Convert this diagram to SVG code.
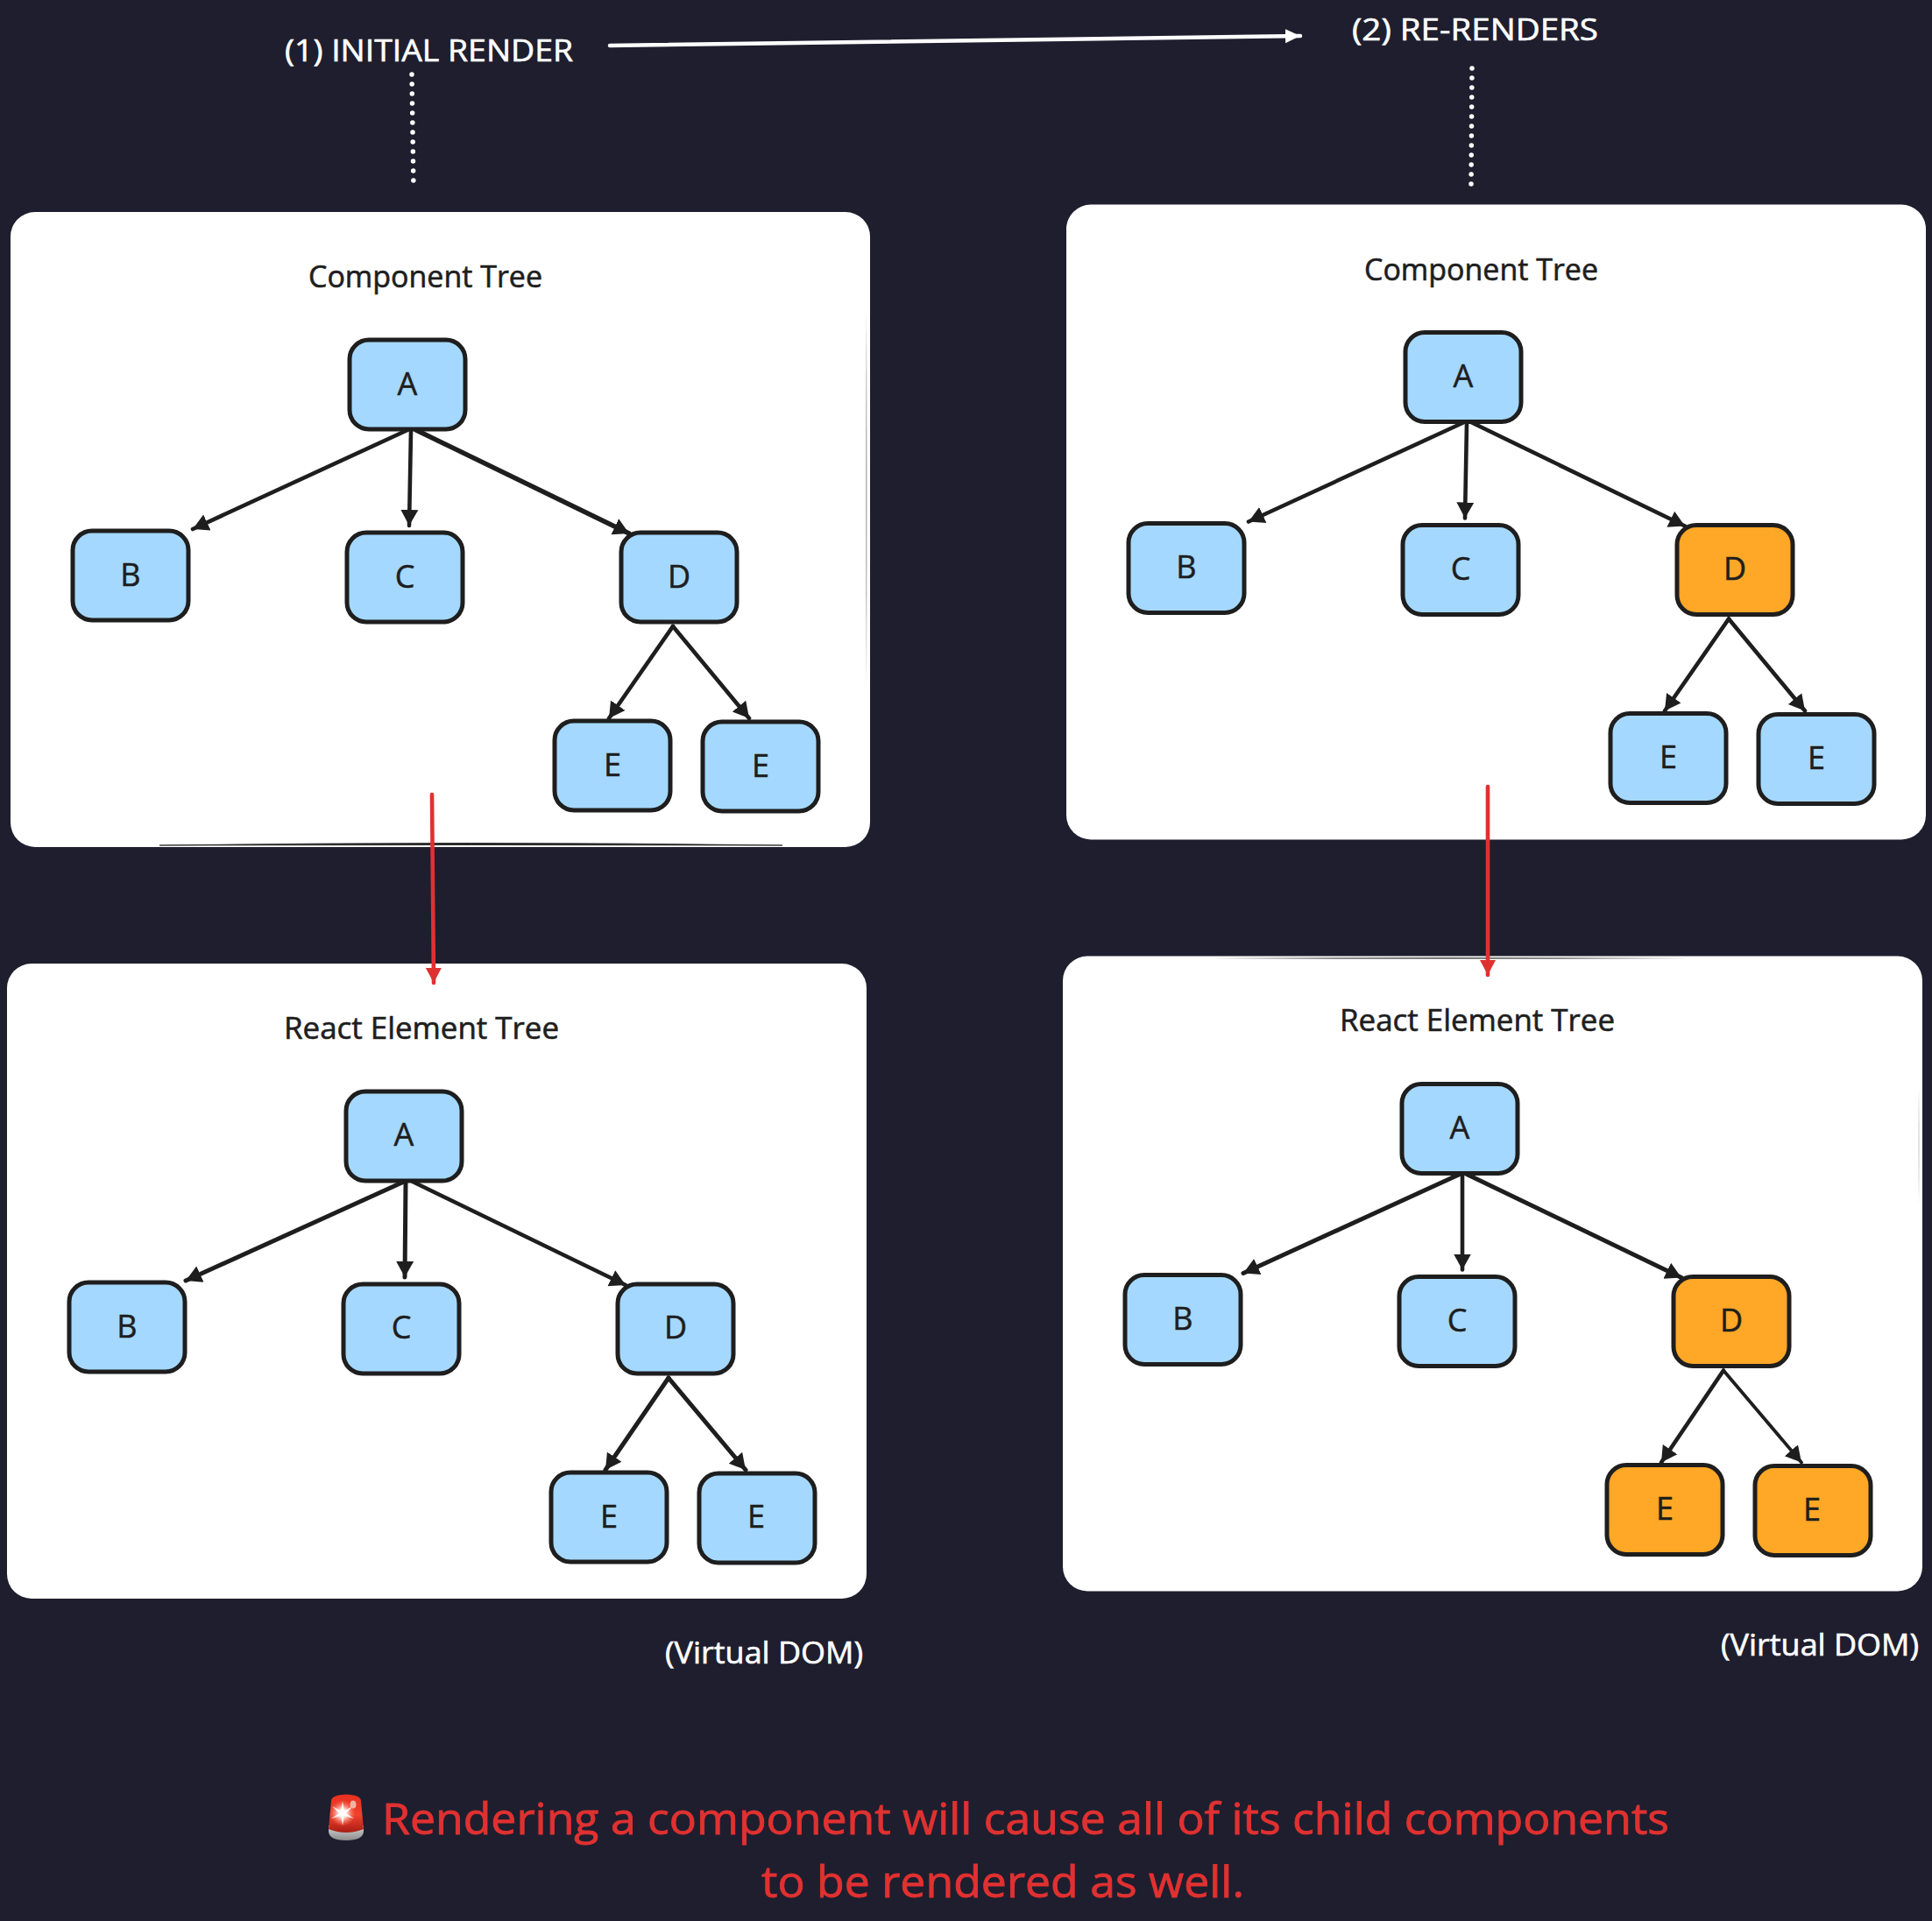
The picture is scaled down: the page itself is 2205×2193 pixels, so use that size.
<svg xmlns="http://www.w3.org/2000/svg" width="2205" height="2193" viewBox="0 0 2205 2193">
<style>
text{font-family:"Open Sans","Noto Sans","Liberation Sans",sans-serif}
.panel{fill:#fff}
.sk{fill:#1e1e1e}
.n{stroke:#1e1e1e;stroke-width:5}
.blue{fill:#a5d8ff}
.orange{fill:#ffa726}
.lbl{font-size:36px;fill:#1e1e1e;stroke:#1e1e1e;stroke-width:.5;text-anchor:middle}
.ttl{font-size:34px;fill:#1e1e1e;stroke:#1e1e1e;stroke-width:.6}
.wt{font-size:34px;fill:#fff;stroke:#fff;stroke-width:.6}
.red{font-size:50px;fill:#e03131;stroke:#e03131;stroke-width:.9}
.c{fill:none;stroke:#1e1e1e;stroke-width:4.6;stroke-linecap:round;marker-end:url(#ah)}
.rc{fill:none;stroke:#e03131;stroke-width:4.6;stroke-linecap:round;marker-end:url(#ahr)}
.wc{fill:none;stroke:#fff;stroke-width:4.5;stroke-linecap:round;marker-end:url(#ahw)}
.dot{fill:none;stroke:#fff;stroke-width:5.5;stroke-linecap:round;stroke-dasharray:0 11}
</style>
<defs>
<marker id="ah" markerUnits="userSpaceOnUse" markerWidth="22" markerHeight="24" refX="18" refY="11" orient="auto"><path d="M0,1 L18,11 L0,21 Z" fill="#1e1e1e"/></marker>
<marker id="ahr" markerUnits="userSpaceOnUse" markerWidth="22" markerHeight="24" refX="17" refY="11" orient="auto"><path d="M0,2 L17,11 L0,20 Z" fill="#e03131"/></marker>
<marker id="ahw" markerUnits="userSpaceOnUse" markerWidth="22" markerHeight="24" refX="17" refY="11" orient="auto"><path d="M0,3 L17,11 L0,19 Z" fill="#fff"/></marker>
<linearGradient id="dome" x1="0" y1="0" x2="0" y2="1"><stop offset="0" stop-color="#e8301f"/><stop offset=".55" stop-color="#f0402c"/><stop offset="1" stop-color="#a81d14"/></linearGradient>
<linearGradient id="base" x1="0" y1="0" x2="0" y2="1"><stop offset="0" stop-color="#d5d5d5"/><stop offset="1" stop-color="#8c8c8c"/></linearGradient>
<radialGradient id="glow"><stop offset="0" stop-color="#fff"/><stop offset=".35" stop-color="#ffd8d0"/><stop offset="1" stop-color="#ff6a55" stop-opacity="0"/></radialGradient>
</defs>
<rect width="2205" height="2193" fill="#1e1e2e"/>

<g id="panels">
<g id="panel-component-1"><rect class="panel" x="12" y="242" width="981" height="725" rx="28"/><path class="sk" d="M182,965 Q540,960 893,965 Q540,964 182,965 Z" stroke="#1e1e1e" stroke-width=".8"/><path class="sk" opacity=".35" d="M989,352 Q987,570 989,784 Q990,570 989,352 Z"/></g>
<g id="panel-component-2"><rect class="panel" x="1217" y="233.500" width="981" height="725" rx="28"/></g>
<g id="panel-element-1"><rect class="panel" x="8" y="1100" width="981" height="725" rx="28"/></g>
<g id="panel-element-2"><rect class="panel" x="1213" y="1091.500" width="981" height="725" rx="28"/><path class="sk" d="M1379,1094 Q1650,1092.500 1931,1094 Q1650,1095 1379,1094 Z"/><path class="sk" opacity=".25" d="M2190,1241 Q2189,1310 2190,1374 Q2191,1310 2190,1241 Z"/></g>
</g>

<g id="titles">
<text class="wt" x="325" y="70" textLength="329" lengthAdjust="spacingAndGlyphs">(1) INITIAL RENDER</text>
<text class="wt" x="1543" y="46" textLength="281" lengthAdjust="spacingAndGlyphs">(2) RE-RENDERS</text>
<text class="ttl" x="352" y="328" textLength="267" lengthAdjust="spacingAndGlyphs">Component Tree</text>
<text class="ttl" x="1557" y="320" textLength="267" lengthAdjust="spacingAndGlyphs">Component Tree</text>
<text class="ttl" x="324" y="1186" textLength="314" lengthAdjust="spacingAndGlyphs">React Element Tree</text>
<text class="ttl" x="1529" y="1177" textLength="314" lengthAdjust="spacingAndGlyphs">React Element Tree</text>
<text class="wt" x="759" y="1899" textLength="226" lengthAdjust="spacingAndGlyphs">(Virtual DOM)</text>
<text class="wt" x="1964" y="1890" textLength="226" lengthAdjust="spacingAndGlyphs">(Virtual DOM)</text>
<text class="red" x="436" y="2094" textLength="1469" lengthAdjust="spacingAndGlyphs">Rendering a component will cause all of its child components</text>
<text class="red" x="869" y="2166" textLength="551" lengthAdjust="spacingAndGlyphs">to be rendered as well.</text>
</g>

<g id="siren">
<path d="M375,2090 Q375,2101 395,2101 Q415,2101 415,2090 L415,2084 L375,2084 Z" fill="url(#base)"/>
<path d="M378,2056 Q378,2049 395,2048.500 Q412,2049 412,2056 L415,2088 Q395,2096 375,2088 Z" fill="url(#dome)"/>
<circle cx="391" cy="2070" r="15" fill="url(#glow)"/>
<path d="M391,2056 L393,2067 L403,2062 L395,2070 L404,2076 L393,2073 L391,2084 L389,2073 L378,2076 L387,2070 L379,2062 L389,2067 Z" fill="#fff" opacity=".85"/>
<ellipse cx="403" cy="2060" rx="3.500" ry="4.500" fill="#f6b0a6"/>
</g>

<g id="node-c1-a"><rect class="n blue" x="399" y="388" width="132" height="102" rx="22"/><text class="lbl" x="465" y="451">A</text></g>
<g id="node-c1-b"><rect class="n blue" x="83" y="606" width="132" height="102" rx="22"/><text class="lbl" x="149" y="669">B</text></g>
<g id="node-c1-c"><rect class="n blue" x="396" y="608" width="132" height="102" rx="22"/><text class="lbl" x="462" y="671">C</text></g>
<g id="node-c1-d"><rect class="n blue" x="709" y="608" width="132" height="102" rx="22"/><text class="lbl" x="775" y="671">D</text></g>
<g id="node-c1-e1"><rect class="n blue" x="633" y="823" width="132" height="102" rx="22"/><text class="lbl" x="699" y="886">E</text></g>
<g id="node-c1-e2"><rect class="n blue" x="802" y="824" width="132" height="102" rx="22"/><text class="lbl" x="868" y="887">E</text></g>

<g id="node-c2-a"><rect class="n blue" x="1604" y="379.500" width="132" height="102" rx="22"/><text class="lbl" x="1670" y="441.500">A</text></g>
<g id="node-c2-b"><rect class="n blue" x="1288" y="597.500" width="132" height="102" rx="22"/><text class="lbl" x="1354" y="660">B</text></g>
<g id="node-c2-c"><rect class="n blue" x="1601" y="599.500" width="132" height="102" rx="22"/><text class="lbl" x="1667" y="661.500">C</text></g>
<g id="node-c2-d"><rect class="n orange" x="1914" y="599.500" width="132" height="102" rx="22"/><text class="lbl" x="1980" y="661.500">D</text></g>
<g id="node-c2-e1"><rect class="n blue" x="1838" y="814.500" width="132" height="102" rx="22"/><text class="lbl" x="1904" y="876.500">E</text></g>
<g id="node-c2-e2"><rect class="n blue" x="2007" y="815.500" width="132" height="102" rx="22"/><text class="lbl" x="2073" y="877.500">E</text></g>

<g id="node-r1-a"><rect class="n blue" x="395" y="1246" width="132" height="102" rx="22"/><text class="lbl" x="461" y="1308">A</text></g>
<g id="node-r1-b"><rect class="n blue" x="79" y="1464" width="132" height="102" rx="22"/><text class="lbl" x="145" y="1527">B</text></g>
<g id="node-r1-c"><rect class="n blue" x="392" y="1466" width="132" height="102" rx="22"/><text class="lbl" x="458" y="1528">C</text></g>
<g id="node-r1-d"><rect class="n blue" x="705" y="1466" width="132" height="102" rx="22"/><text class="lbl" x="771" y="1528">D</text></g>
<g id="node-r1-e1"><rect class="n blue" x="629" y="1681" width="132" height="102" rx="22"/><text class="lbl" x="695" y="1744">E</text></g>
<g id="node-r1-e2"><rect class="n blue" x="798" y="1682" width="132" height="102" rx="22"/><text class="lbl" x="863" y="1744">E</text></g>

<g id="node-r2-a"><rect class="n blue" x="1600" y="1237.500" width="132" height="102" rx="22"/><text class="lbl" x="1666" y="1299.500">A</text></g>
<g id="node-r2-b"><rect class="n blue" x="1284" y="1455.500" width="132" height="102" rx="22"/><text class="lbl" x="1350" y="1518">B</text></g>
<g id="node-r2-c"><rect class="n blue" x="1597" y="1457.500" width="132" height="102" rx="22"/><text class="lbl" x="1663" y="1520">C</text></g>
<g id="node-r2-d"><rect class="n orange" x="1910" y="1457.500" width="132" height="102" rx="22"/><text class="lbl" x="1976" y="1520">D</text></g>
<g id="node-r2-e1"><rect class="n orange" x="1834" y="1672.500" width="132" height="102" rx="22"/><text class="lbl" x="1900" y="1734.500">E</text></g>
<g id="node-r2-e2"><rect class="n orange" x="2003" y="1673.500" width="132" height="102" rx="22"/><text class="lbl" x="2068" y="1735.500">E</text></g>

<g id="connectors">
<path class="wc" d="M696,52 L1484,41"/>
<path class="dot" d="M470,85 L472,216"/>
<path class="dot" d="M1680,78 L1679,213"/>
<g>
<path class="c" d="M465,491 L220,604"/><path class="c" d="M469,492 L467,600"/><path class="c" d="M475,491 L718,609" style="stroke-width:5.5"/><path class="c" d="M768,715 L695,820"/><path class="c" d="M768,715 L855,820"/>
</g>
<g transform="translate(1205,-8.500)">
<path class="c" d="M465,491 L220,604"/><path class="c" d="M469,492 L467,600"/><path class="c" d="M475,491 L718,609"/><path class="c" d="M768,715 L695,820"/><path class="c" d="M768,715 L855,820"/>
</g>
<g transform="translate(-4,858)">
<path class="c" d="M465,491 L216,604" style="stroke-width:5"/><path class="c" d="M467,492 L466,600" style="stroke-width:5"/><path class="c" d="M475,491 L718,609"/><path class="c" d="M767,715 L695,820" style="stroke-width:5"/><path class="c" d="M767,715 L855,820" style="stroke-width:5"/>
</g>
<g transform="translate(1201,849.500)">
<path class="c" d="M465,491 L218,604" style="stroke-width:5"/><path class="c" d="M468,492 L468,600"/><path class="c" d="M473,491 L718,609" style="stroke-width:5"/><path class="c" d="M766,715 L695,820"/><path class="c" d="M766,715 L855,820" style="stroke-width:3.800"/>
</g>
<path class="rc" d="M493,907 L495,1122"/>
<path class="rc" d="M1698,898 L1698,1113"/>
</g>
</svg>
